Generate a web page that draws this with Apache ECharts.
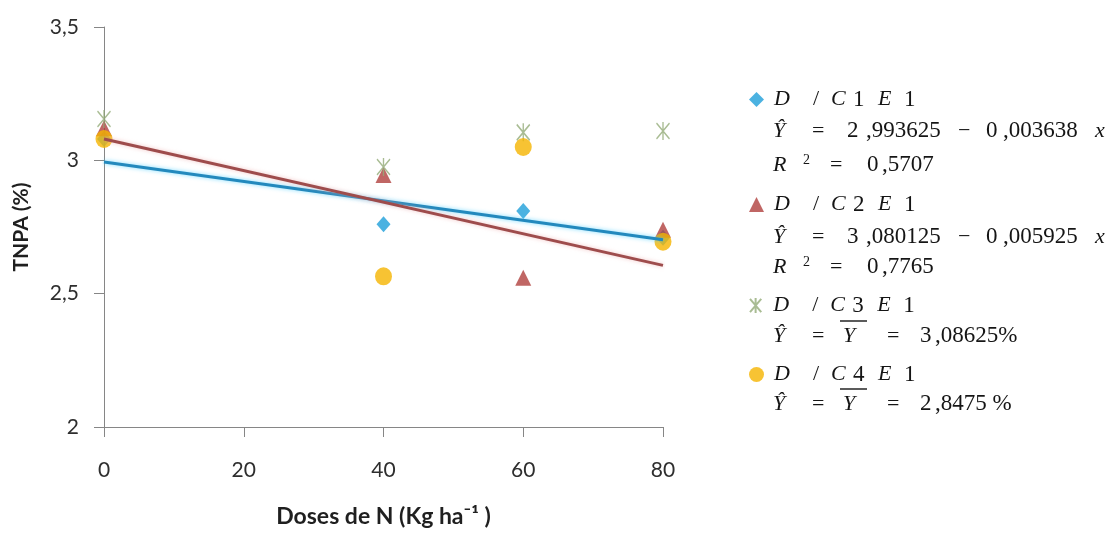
<!DOCTYPE html>
<html>
<head>
<meta charset="utf-8">
<script src="https://cdn.jsdelivr.net/npm/echarts/dist/echarts.min.js"></script>
<style>
  html, body { margin: 0; padding: 0; background: #ffffff; }
  #chart { width: 1112px; height: 538px; }
</style>
</head>
<body>
<div id="chart"></div>
<script>
// Nitrogen doses (kg/ha) and TNPA (%) observed for each treatment
const doses = [0, 40, 60, 80];
const xTicks = [0, 20, 40, 60, 80];
const yTicks = [2, 2.5, 3, 3.5];
const dc1e1 = [3.08, 2.76, 2.81, 2.71];
const dc2e1 = [3.12, 2.945, 2.56, 2.74];
const dc3e1 = [3.155, 2.975, 3.105, 3.11];
const dc4e1 = [3.08, 2.565, 3.05, 2.695];

// Fitted models printed beside the plot
const fit1 = [2.993625, -0.003638];
const fit2 = [3.080125, -0.005925];
const fit1Text = ['2', ',993625', '0', ',003638', '0', ',5707'];
const fit2Text = ['3', ',080125', '0', ',005925', '0', ',7765'];
const mean3Text = ['3', ',08625%'];
const mean4Text = ['2', ',8475 %'];

const names = ['D/C1E1', 'D/C2E1', 'D/C3E1', 'D/C4E1'];
const colors = ['#1e9fda', '#b0403d', '#93ab78', '#f5b400'];

const pts = ys => doses.map((d, i) => [d, ys[i]]);
const trend = f => [xTicks[0], xTicks[xTicks.length - 1]].map(x => [x, f[0] + f[1] * x]);

const serif = 'Liberation Serif, DejaVu Serif, serif';
const ink = '#151515';
const FS = 22;   // letters
const FN = 23;   // numerals
const cell = (w, italic, size) => ({
  fontStyle: italic ? 'italic' : 'normal', fontFamily: serif,
  fontSize: size || FS, color: ink, width: w
});
const rich = {
  sp: { width: 5 },
  i:  cell(undefined, true),
  n:  cell(undefined, false, FN),
  // fixed-width cells keep the loose equation-editor spacing
  cD: cell(39, true),
  cS: cell(18, false),
  cC: cell(22, true),
  cN: cell(25, false, FN),
  cE: cell(26, true),
  yh: cell(39, true),
  eq: cell(35, false),
  eqB: cell(31, false),
  d1: cell(19, false, FN),
  dA: cell(92, false, FN),
  mi: cell(28, false),
  d2: cell(17, false, FN),
  dB: cell(92, false, FN),
  rr: cell(30, true),
  sq: { fontFamily: serif, fontSize: 14, color: ink, width: 27, verticalAlign: 'top' },
  eqR: cell(37, false),
  d0: cell(15, false, FN),
  eqM: cell(33, false),
  yb: cell(44, true)
};

const treatLabel = n => `{sp| }{cD|D}{cS|/}{cC|C}{cN|${n}}{cE|E}{n|1}`;
const linEq = t => `{yh|Ŷ}{eq|=}{d1|${t[0]}}{dA|${t[1]}}{mi|−}{d2|${t[2]}}{dB|${t[3]}}{i|x}`;
const r2Line = t => `{rr|R}{sq|2}{eqR|=}{d0|${t[4]}}{n|${t[5]}}`;
const meanEq = t => `{yh|Ŷ}{eqB|=}{yb|Y}{eqM|=}{d0|${t[0]}}{n|${t[1]}}`;

const legendAt = (name, y, num) => ({
  data: [name], orient: 'vertical', left: 749, top: y - 12, padding: 0,
  itemWidth: 15, itemHeight: 15, selectedMode: false,
  formatter: () => treatLabel(num),
  textStyle: { rich: rich, fontFamily: serif, fontSize: FS, color: ink }
});

const textAt = (y, str) => ({
  type: 'text', x: 773, y: y,
  style: { text: str, rich: rich, fontFamily: serif, fontSize: FS, fill: ink, verticalAlign: 'middle' }
});
const barAt = y => ({
  type: 'line', shape: { x1: 840, y1: y, x2: 867, y2: y },
  style: { stroke: ink, lineWidth: 1.4 }
});

const chart = echarts.init(document.getElementById('chart'), null, { renderer: 'canvas' });
chart.setOption({
  backgroundColor: '#ffffff',
  animation: false,
  grid: { left: 104, right: 449, top: 27, bottom: 111, containLabel: false },
  xAxis: {
    type: 'value', min: xTicks[0], max: xTicks[xTicks.length - 1], interval: 20,
    name: 'Doses de N (Kg ha⁻¹ )', nameLocation: 'middle', nameGap: 78,
    nameTextStyle: { fontFamily: 'Lato', fontWeight: 'bold', fontSize: 23, color: '#1f1f1f' },
    axisLine: { onZero: false, lineStyle: { color: '#868686', width: 1 } },
    axisTick: { show: true, length: 10, lineStyle: { color: '#868686' } },
    axisLabel: { margin: 33, fontFamily: 'Lato', fontSize: 21, color: '#2e2e2e' },
    splitLine: { show: false }
  },
  yAxis: {
    type: 'value', min: yTicks[0], max: yTicks[yTicks.length - 1], interval: 0.5,
    name: 'TNPA (%)', nameLocation: 'middle', nameGap: 72,
    nameTextStyle: { fontFamily: 'Lato', fontWeight: 'bold', fontSize: 21, color: '#1f1f1f' },
    axisLine: { show: true, lineStyle: { color: '#868686', width: 1 } },
    axisTick: { show: true, length: 10, lineStyle: { color: '#868686' } },
    axisLabel: {
      margin: 25, fontFamily: 'Lato', fontSize: 21, color: '#2e2e2e',
      formatter: v => String(v).replace('.', ',')
    },
    splitLine: { show: false }
  },
  legend: [
    legendAt(names[0], 100, 1),
    legendAt(names[1], 205, 2),
    legendAt(names[2], 306, 3),
    legendAt(names[3], 375, 4)
  ],
  graphic: [
    textAt(131, linEq(fit1Text)),
    textAt(165, r2Line(fit1Text)),
    textAt(237, linEq(fit2Text)),
    textAt(267, r2Line(fit2Text)),
    textAt(336, meanEq(mean3Text)),
    barAt(321),
    textAt(404, meanEq(mean4Text)),
    barAt(389)
  ],
  series: [
    {
      name: 'Linear (D/C1E1)', type: 'line', data: trend(fit1), showSymbol: false, silent: true,
      lineStyle: { color: '#2389bd', width: 3, shadowColor: 'rgba(70,205,255,0.7)', shadowBlur: 4 }
    },
    {
      name: 'Linear (D/C2E1)', type: 'line', data: trend(fit2), showSymbol: false, silent: true,
      lineStyle: { color: '#9e4c4c', width: 3, shadowColor: 'rgba(235,160,160,0.6)', shadowBlur: 4 }
    },
    {
      name: names[0], type: 'scatter', data: pts(dc1e1),
      symbol: 'diamond', symbolSize: [14, 16], itemStyle: { color: colors[0] }
    },
    {
      name: names[1], type: 'scatter', data: pts(dc2e1),
      symbol: 'triangle', symbolSize: [16, 16], itemStyle: { color: colors[1] }
    },
    {
      name: names[2], type: 'scatter', data: pts(dc3e1),
      symbol: 'path://M6 0 L6 16 M0 1 L12 15 M12 1 L0 15', symbolSize: [13, 18],
      itemStyle: { color: 'rgba(0,0,0,0)', borderColor: colors[2], borderWidth: 1.6 }
    },
    {
      name: names[3], type: 'scatter', data: pts(dc4e1),
      symbol: 'circle', symbolSize: [17, 18], itemStyle: { color: colors[3] }
    }
  ]
});
</script>
</body>
</html>
